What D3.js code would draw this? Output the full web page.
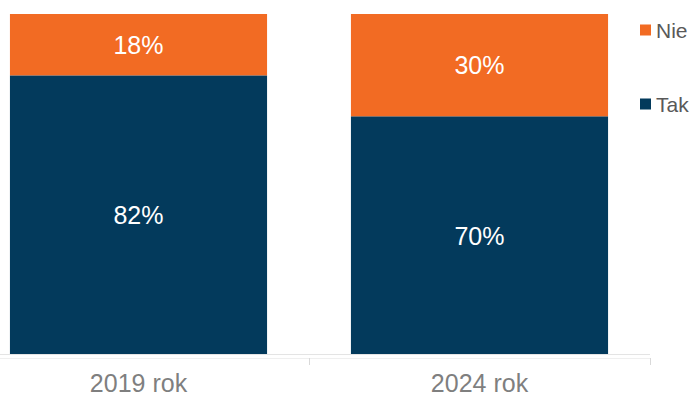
<!DOCTYPE html>
<html><head><meta charset="utf-8">
<script src="https://cdn.jsdelivr.net/npm/d3@7"></script>
<style>body{margin:0;background:#fff}svg{display:block}</style>
</head><body>
<script>
const categories = ["2019 rok", "2024 rok"];
const seriesNames = ["Tak", "Nie"];
const takValues = [82, 70];
const nieValues = [18, 30];
const colors = {Tak: "#033a5c", Nie: "#f26b23"};

(function () {
const W = 699, H = 398;
const svg = d3.select("body").append("svg").attr("width", W).attr("height", H);
const plotTop = 14, plotBottom = 355;
const x = d3.scaleBand().domain(categories).range([-32, 650]).paddingInner(0.246).paddingOuter(0.123);
const y = d3.scaleLinear().domain([0, 100]).range([plotBottom, plotTop]);

const data = categories.map((c, i) => ({cat: c, Tak: takValues[i], Nie: nieValues[i]}));
const stack = d3.stack().keys(seriesNames)(data);

svg.append("g").selectAll("g").data(stack).join("g")
  .attr("fill", d => colors[d.key])
  .selectAll("rect").data(d => d).join("rect")
  .attr("x", d => x(d.data.cat))
  .attr("width", x.bandwidth())
  .attr("y", d => y(d[1]))
  .attr("height", d => y(d[0]) - y(d[1]));

stack.forEach(s => {
  svg.append("g").selectAll("text").data(s).join("text")
    .attr("x", d => x(d.data.cat) + x.bandwidth() / 2)
    .attr("y", d => (y(d[0]) + y(d[1])) / 2)
    .attr("dy", "0.36em")
    .attr("text-anchor", "middle")
    .attr("fill", "#fff")
    .attr("font-family", "Liberation Sans, Arial, sans-serif")
    .attr("font-size", 25)
    .text(d => (d[1] - d[0]) + "%");
});

svg.append("line").attr("x1", 0).attr("x2", 650).attr("y1", plotBottom - 0.5).attr("y2", plotBottom - 0.5)
  .attr("stroke", "#e4e4e4").attr("stroke-width", 1);
svg.append("line").attr("x1", 0).attr("x2", 650).attr("y1", 358.5).attr("y2", 358.5)
  .attr("stroke", "#efefef").attr("stroke-width", 1);
svg.append("g").selectAll("line").data(categories).join("line")
  .attr("x1", c => Math.round(x(c) + x.bandwidth() + (x.step() - x.bandwidth()) / 2) + 0.5)
  .attr("x2", c => Math.round(x(c) + x.bandwidth() + (x.step() - x.bandwidth()) / 2) + 0.5)
  .attr("y1", 358).attr("y2", 365)
  .attr("stroke", "#d9d9d9");

svg.append("g").selectAll("text").data(categories).join("text")
  .attr("x", c => x(c) + x.bandwidth() / 2)
  .attr("y", 392)
  .attr("text-anchor", "middle")
  .attr("fill", "#7f7f7f")
  .attr("font-family", "Liberation Sans, Arial, sans-serif")
  .attr("font-size", 25)
  .text(c => c);

const legendItems = ["Nie", "Tak"];
const lg = svg.append("g").selectAll("g").data(legendItems).join("g")
  .attr("transform", (d, i) => `translate(640, ${30 + i * 74})`);
lg.append("rect").attr("x", 0).attr("y", -5.5).attr("width", 11).attr("height", 11).attr("fill", d => colors[d]);
lg.append("text").attr("x", 16).attr("y", 0).attr("dy", "0.36em")
  .attr("fill", "#595959")
  .attr("font-family", "Liberation Sans, Arial, sans-serif")
  .attr("font-size", 21)
  .text(d => d);
})();
</script>
</body></html>
